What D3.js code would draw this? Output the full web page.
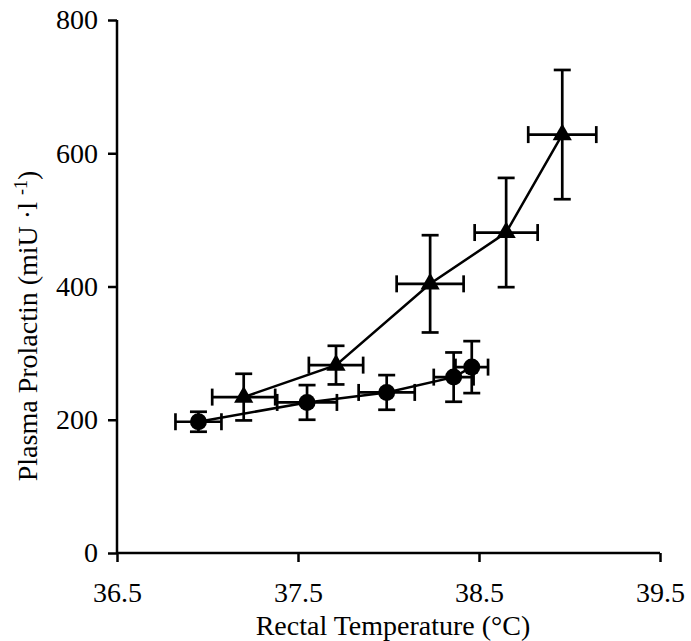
<!DOCTYPE html>
<html>
<head>
<meta charset="utf-8">
<script src="https://cdn.jsdelivr.net/npm/d3@7"></script>
<style>
  body { margin: 0; background: #fff; }
</style>
</head>
<body>
<svg id="chart" width="691" height="641"></svg>
<script>
// Circles series
const circleTemp = [36.95, 37.55, 37.99, 38.36, 38.46];
const circleTempErr = [0.127, 0.165, 0.155, 0.11, 0.09];
const circlePrl = [197, 226, 241, 264, 279];
const circlePrlErr = [15, 26, 26, 37, 39];

// Triangles series
const triTemp = [37.2, 37.71, 38.23, 38.65, 38.96];
const triTempErr = [0.174, 0.15, 0.185, 0.174, 0.188];
const triPrl = [234, 282, 404, 481, 628];
const triPrlErr = [35, 29, 73, 82, 97];

const xTicks = [36.5, 37.5, 38.5, 39.5];
const yTicks = [0, 200, 400, 600, 800];

const FONT = "'Liberation Serif', Tinos, 'Times New Roman', Times, 'DejaVu Serif', serif";
const FS = 28;
const svg = d3.select('#chart');
const x = d3.scaleLinear().domain([36.5, 39.5]).range([117, 660]);
const y = d3.scaleLinear().domain([0, 800]).range([553, 20]);

// Axes
const xAxis = svg.append('g').attr('transform', `translate(0,${y(0)})`)
  .call(d3.axisBottom(x).tickValues(xTicks).tickSize(9).tickPadding(20).tickFormat(d3.format('.1f')));
const yAxis = svg.append('g').attr('transform', `translate(${x(36.5)},0)`)
  .call(d3.axisLeft(y).tickValues(yTicks).tickSize(9).tickPadding(10).tickFormat(d3.format('d')));
[xAxis, yAxis].forEach(a => {
  a.attr('font-family', FONT).attr('font-size', FS);
  a.select('.domain').attr('stroke', '#000').attr('stroke-width', 2.5);
  a.selectAll('.tick line').attr('stroke', '#000').attr('stroke-width', 2.5);
  a.selectAll('.tick text').attr('fill', '#000');
});
xAxis.select('.domain').attr('d', `M${x(36.5)},0H${x(39.5)}`);
yAxis.select('.domain').attr('d', `M0,${y(0)}V${y(800)}`);

// Axis titles
svg.append('text').attr('x', 393).attr('y', 635).attr('text-anchor', 'middle')
  .attr('font-family', FONT).attr('font-size', FS).text('Rectal Temperature (°C)');
const yl = svg.append('text').attr('transform', 'translate(37,326) rotate(-90)')
  .attr('text-anchor', 'middle').attr('font-family', FONT).attr('font-size', FS);
yl.append('tspan').text('Plasma Prolactin (miU ·l ');
yl.append('tspan').attr('dy', -10).attr('font-size', 18).text('-1');
yl.append('tspan').attr('dy', 10).text(')');

function drawSeries(tx, te, py, pe, shape) {
  const pts = tx.map((t, i) => ({ t, te: te[i], p: py[i], pe: pe[i] }));
  const g = svg.append('g');
  g.append('path').datum(pts)
    .attr('fill', 'none').attr('stroke', '#000').attr('stroke-width', 2.5)
    .attr('d', d3.line().x(d => x(d.t)).y(d => y(d.p)));
  const cap = 8.5;
  const eb = g.selectAll('.eb').data(pts).enter().append('g')
    .attr('stroke', '#000').attr('stroke-width', 2.7);
  eb.append('line').attr('x1', d => x(d.t)).attr('x2', d => x(d.t))
    .attr('y1', d => y(d.p - d.pe)).attr('y2', d => y(d.p + d.pe));
  eb.append('line').attr('x1', d => x(d.t) - cap).attr('x2', d => x(d.t) + cap)
    .attr('y1', d => y(d.p + d.pe)).attr('y2', d => y(d.p + d.pe));
  eb.append('line').attr('x1', d => x(d.t) - cap).attr('x2', d => x(d.t) + cap)
    .attr('y1', d => y(d.p - d.pe)).attr('y2', d => y(d.p - d.pe));
  eb.append('line').attr('x1', d => x(d.t - d.te)).attr('x2', d => x(d.t + d.te))
    .attr('y1', d => y(d.p)).attr('y2', d => y(d.p));
  eb.append('line').attr('x1', d => x(d.t - d.te)).attr('x2', d => x(d.t - d.te))
    .attr('y1', d => y(d.p) - cap).attr('y2', d => y(d.p) + cap);
  eb.append('line').attr('x1', d => x(d.t + d.te)).attr('x2', d => x(d.t + d.te))
    .attr('y1', d => y(d.p) - cap).attr('y2', d => y(d.p) + cap);
  const sym = shape === 'circle' ? d3.symbolCircle : d3.symbolTriangle;
  const size = shape === 'circle' ? 227 : 160;
  g.selectAll('.mk').data(pts).enter().append('path')
    .attr('d', d3.symbol().type(sym).size(size))
    .attr('transform', d => `translate(${x(d.t)},${y(d.p)})`)
    .attr('fill', '#000');
}

drawSeries(circleTemp, circleTempErr, circlePrl, circlePrlErr, 'circle');
drawSeries(triTemp, triTempErr, triPrl, triPrlErr, 'triangle');
</script>
</body>
</html>
